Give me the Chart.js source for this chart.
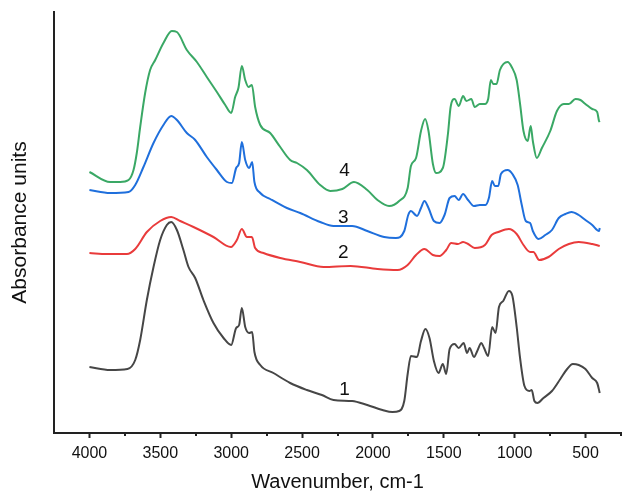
<!DOCTYPE html>
<html>
<head>
<meta charset="utf-8">
<title>IR spectra</title>
<script src="https://cdn.jsdelivr.net/npm/chart.js@4/dist/chart.umd.min.js"></script>
<style>
  html, body { margin: 0; padding: 0; background: #fff; }
  #wrap { width: 622px; height: 497px; position: relative; }
</style>
</head>
<body>
<div id="wrap"><canvas id="c"></canvas></div>
<script>
// Spectrum 1 (gray)
const wn1 = [4000,3854,3732,3677,3642,3595,3548,3501,3454,3423,3383,3337,3301,3254,3196,3125,3054,3000,2965,2944,2925,2901,2873,2852,2836,2795,2702,2584,2466,2360,2278,2147,2040,1933,1862,1815,1779,1755,1732,1689,1661,1630,1601,1570,1537,1507,1483,1459,1424,1395,1360,1336,1318,1287,1264,1235,1216,1187,1159,1135,1111,1081,1041,1016,986,962,931,896,880,861,840,797,737,678,630,590,548,501,453,418,400];
const ab1 = [0.66,0.63,0.64,0.73,0.93,1.33,1.66,1.93,2.08,2.11,2.03,1.83,1.66,1.55,1.33,1.10,0.95,0.88,1.05,1.08,1.25,1.06,1.00,1.01,0.81,0.68,0.60,0.50,0.43,0.38,0.33,0.32,0.28,0.23,0.21,0.22,0.32,0.59,0.77,0.76,0.92,1.04,0.95,0.72,0.60,0.69,0.59,0.84,0.89,0.85,0.90,0.80,0.85,0.76,0.82,0.90,0.85,0.77,1.06,1.00,1.26,1.32,1.42,1.37,1.06,0.75,0.47,0.42,0.43,0.32,0.30,0.35,0.42,0.54,0.64,0.69,0.68,0.64,0.55,0.50,0.40];

// Spectrum 2 (red)
const wn2 = [4000,3877,3736,3677,3595,3501,3423,3360,3266,3125,3002,2960,2925,2889,2854,2831,2772,2654,2513,2348,2158,1968,1826,1755,1696,1637,1577,1530,1483,1448,1400,1364,1329,1282,1210,1163,1116,1041,986,938,891,868,827,761,689,618,548,453,400];
const ab2 = [1.80,1.79,1.79,1.84,2.01,2.12,2.16,2.12,2.06,1.96,1.86,1.93,2.04,1.96,1.96,1.85,1.80,1.75,1.71,1.66,1.67,1.64,1.63,1.68,1.78,1.84,1.78,1.77,1.83,1.90,1.89,1.91,1.89,1.85,1.88,1.98,2.01,2.04,1.99,1.88,1.81,1.81,1.73,1.76,1.84,1.89,1.91,1.89,1.87];

// Spectrum 3 (blue)
const wn3 = [4000,3854,3724,3677,3619,3548,3478,3423,3383,3313,3254,3172,3101,3030,2995,2965,2944,2925,2901,2873,2852,2836,2795,2725,2607,2513,2372,2278,2147,2040,1921,1838,1779,1751,1732,1689,1661,1637,1608,1570,1530,1495,1459,1424,1395,1364,1329,1287,1246,1206,1182,1159,1140,1116,1097,1050,1016,979,950,922,891,872,832,784,737,689,642,600,548,501,453,405,400];
const ab3 = [2.43,2.40,2.41,2.48,2.66,2.90,3.08,3.17,3.13,3.00,2.93,2.76,2.63,2.51,2.50,2.65,2.70,2.91,2.73,2.65,2.71,2.51,2.40,2.34,2.25,2.20,2.11,2.07,2.07,2.02,1.96,1.95,2.02,2.18,2.22,2.17,2.25,2.32,2.25,2.12,2.10,2.18,2.35,2.37,2.33,2.39,2.33,2.27,2.28,2.28,2.35,2.52,2.47,2.47,2.59,2.63,2.59,2.48,2.28,2.12,2.10,2.02,1.94,1.98,2.03,2.15,2.19,2.21,2.18,2.13,2.08,2.02,2.05];

// Spectrum 4 (green)
const wn4 = [4000,3854,3783,3724,3689,3666,3642,3607,3572,3536,3478,3419,3383,3313,3242,3172,3101,3042,3000,2972,2949,2925,2901,2878,2854,2831,2795,2725,2654,2584,2536,2466,2372,2301,2216,2134,2040,1968,1886,1815,1755,1732,1696,1661,1632,1608,1577,1554,1507,1471,1452,1424,1395,1364,1341,1306,1282,1246,1210,1187,1168,1151,1128,1104,1050,1021,986,962,938,908,887,872,844,808,749,702,654,618,571,536,501,453,418,405,400];
const ab4 = [2.61,2.51,2.51,2.53,2.63,2.80,3.06,3.40,3.63,3.73,3.90,4.02,4.01,3.83,3.71,3.56,3.41,3.28,3.20,3.36,3.45,3.67,3.53,3.46,3.48,3.26,3.08,3.00,2.86,2.73,2.70,2.63,2.48,2.42,2.44,2.51,2.43,2.33,2.27,2.32,2.45,2.67,2.75,3.02,3.14,3.02,2.69,2.60,2.65,2.99,3.26,3.34,3.27,3.37,3.32,3.34,3.26,3.29,3.29,3.34,3.53,3.49,3.49,3.63,3.71,3.66,3.53,3.29,3.02,2.92,3.07,2.92,2.75,2.85,3.02,3.22,3.29,3.29,3.34,3.33,3.29,3.24,3.21,3.12,3.11];

// Axis ticks (cm-1)
const majorTicks = [4000,3500,3000,2500,2000,1500,1000,500];
const minorTicks = [3750,3250,2750,2250,1750,1250,750,250];

// Curve numbers and their anchor points (wavenumber, absorbance at text baseline)
const curveLabels = ['1','2','3','4'];
const labelWn = [2200,2210,2210,2200];
const labelAb = [0.38,1.75,2.10,2.57];

const FONT = '"Liberation Sans", Arial, Helvetica, sans-serif';
const AXIS = '#222';

function toPoints(wn, ab) { return wn.map((w, i) => ({ x: w, y: ab[i] })); }

function series(wn, ab, color) {
  return {
    data: toPoints(wn, ab),
    borderColor: color,
    borderWidth: 2,
    pointRadius: 0,
    fill: false,
    cubicInterpolationMode: 'monotone'
  };
}

// Short minor tick marks on the wavenumber axis and the curve numbers
const annotate = {
  id: 'annotate',
  afterDraw(chart) {
    const { ctx, scales: { x, y } } = chart;
    ctx.save();
    ctx.strokeStyle = AXIS;
    ctx.lineWidth = 2;
    const y0 = x.top;
    minorTicks.forEach(v => {
      const px = Math.round(x.getPixelForValue(v));
      ctx.beginPath();
      ctx.moveTo(px, y0);
      ctx.lineTo(px, y0 + 3);
      ctx.stroke();
    });
    ctx.font = '19px ' + FONT;
    ctx.fillStyle = '#111';
    ctx.textAlign = 'center';
    ctx.textBaseline = 'alphabetic';
    curveLabels.forEach((t, i) => {
      ctx.fillText(t, x.getPixelForValue(labelWn[i]), y.getPixelForValue(labelAb[i]));
    });
    ctx.restore();
  }
};

new Chart(document.getElementById('c'), {
  type: 'line',
  data: {
    datasets: [
      series(wn1, ab1, '#464646'),
      series(wn2, ab2, '#e93b3b'),
      series(wn3, ab3, '#1f6fdc'),
      series(wn4, ab4, '#3aa865')
    ]
  },
  options: {
    responsive: true,
    maintainAspectRatio: false,
    devicePixelRatio: 1,
    animation: false,
    layout: { padding: { top: 12, right: 1, left: 0, bottom: 0 } },
    plugins: { legend: { display: false }, tooltip: { enabled: false } },
    scales: {
      x: {
        type: 'linear',
        reverse: true,
        min: 250,
        max: 4250,
        afterBuildTicks: s => { s.ticks = majorTicks.map(v => ({ value: v })); },
        afterFit: s => { s.height = 64; },
        ticks: {
          callback: v => String(v),
          font: { family: FONT, size: 16 },
          color: '#111',
          padding: 6,
          autoSkip: false,
          maxRotation: 0,
          minRotation: 0
        },
        grid: {
          display: true,
          drawOnChartArea: false,
          drawTicks: true,
          tickLength: 5,
          tickWidth: 2,
          tickColor: AXIS,
          color: AXIS
        },
        border: { display: true, color: AXIS, width: 2 },
        title: {
          display: true,
          text: 'Wavenumber, cm-1',
          font: { family: FONT, size: 20 },
          color: '#111',
          padding: { top: 0, bottom: 3 }
        }
      },
      y: {
        type: 'linear',
        min: 0,
        max: 4.21,
        afterFit: s => { s.width = 54; },
        ticks: { display: false },
        grid: { display: false },
        border: { display: true, color: AXIS, width: 2 },
        title: {
          display: true,
          text: 'Absorbance units',
          font: { family: FONT, size: 21 },
          color: '#111',
          padding: { top: 8, bottom: 0 }
        }
      }
    }
  },
  plugins: [annotate]
});
</script>
</body>
</html>
